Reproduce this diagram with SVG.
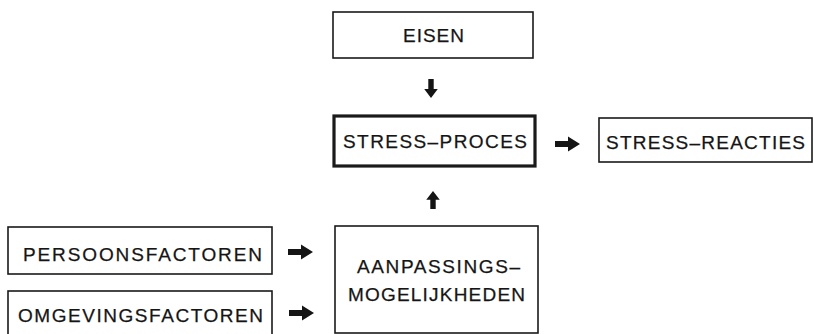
<svg xmlns="http://www.w3.org/2000/svg" width="814" height="334" viewBox="0 0 814 334">
  <defs>
    <style>
      .box { fill: #fff; stroke: #1a1a1a; stroke-width: 1.6; }
      .box.main { stroke-width: 3.2; }
      .label { font-family: "Liberation Sans", Arial, sans-serif; font-size: 19px; fill: #151515; stroke: #151515; stroke-width: 0.25; }
      .arrow { fill: #151515; stroke: none; }
    </style>
    <!-- block arrow pointing right, origin at the tail centre -->
    <path id="arrowR" d="M0,-3 L13,-3 L13,-7.5 L25,0 L13,7.5 L13,3 L0,3 Z"/>
  </defs>
  <rect width="814" height="334" fill="#fff"/>

  <g id="eisen">
    <rect class="box" x="333" y="12" width="200" height="46"/>
    <text class="label" x="403" y="42" textLength="61" lengthAdjust="spacing">EISEN</text>
  </g>

  <g id="stress-proces">
    <rect class="box main" x="334" y="116" width="201" height="50"/>
    <text class="label" x="343" y="148" textLength="184" lengthAdjust="spacing">STRESS–PROCES</text>
  </g>

  <g id="stress-reacties">
    <rect class="box" x="599" y="118" width="213" height="44"/>
    <text class="label" x="606" y="149" textLength="199" lengthAdjust="spacing">STRESS–REACTIES</text>
  </g>

  <g id="persoonsfactoren">
    <rect class="box" x="8" y="227" width="264" height="47"/>
    <text class="label" x="23" y="261" textLength="239" lengthAdjust="spacing">PERSOONSFACTOREN</text>
  </g>

  <g id="omgevingsfactoren">
    <rect class="box" x="8" y="291" width="264" height="60"/>
    <text class="label" x="18" y="322" textLength="245" lengthAdjust="spacing">OMGEVINGSFACTOREN</text>
  </g>

  <g id="aanpassingsmogelijkheden">
    <rect class="box" x="335" y="226" width="203" height="107"/>
    <text class="label" x="357" y="273" textLength="163" lengthAdjust="spacing">AANPASSINGS–</text>
    <text class="label" x="348" y="301" textLength="177" lengthAdjust="spacing">MOGELIJKHEDEN</text>
  </g>

  <g id="connectors">
    <!-- eisen down into stress-proces -->
    <use href="#arrowR" class="arrow" transform="translate(431,79) rotate(90) scale(0.76,0.9)"/>
    <!-- aanpassingsmogelijkheden up into stress-proces -->
    <use href="#arrowR" class="arrow" transform="translate(433,209) rotate(-90) scale(0.72,0.9)"/>
    <!-- stress-proces to stress-reacties -->
    <use href="#arrowR" class="arrow" transform="translate(555,144)"/>
    <!-- persoonsfactoren to aanpassingsmogelijkheden -->
    <use href="#arrowR" class="arrow" transform="translate(288,252)"/>
    <!-- omgevingsfactoren to aanpassingsmogelijkheden -->
    <use href="#arrowR" class="arrow" transform="translate(289,313)"/>
  </g>
</svg>
